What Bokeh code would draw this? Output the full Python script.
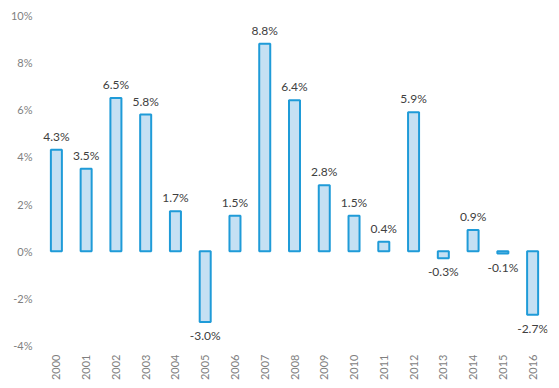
from bokeh.plotting import figure
from bokeh.models import ColumnDataSource, FixedTicker, PrintfTickFormatter, Range1d
from bokeh.core.properties import value
from bokeh.embed import file_html
from bokeh.resources import INLINE
import math

years = ["2000", "2001", "2002", "2003", "2004", "2005", "2006", "2007", "2008",
         "2009", "2010", "2011", "2012", "2013", "2014", "2015", "2016"]
growth = [4.3, 3.5, 6.5, 5.8, 1.7, -3.0, 1.5, 8.8, 6.4, 2.8, 1.5, 0.4, 5.9, -0.3, 0.9, -0.1, -2.7]
y_ticks = [-4, -2, 0, 2, 4, 6, 8, 10]

FONT = "Lato"
src = ColumnDataSource(dict(x=years, top=growth))
pos = ColumnDataSource(dict(x=[y for y, v in zip(years, growth) if v >= 0],
                            y=[v for v in growth if v >= 0],
                            lab=["%.1f%%" % v for v in growth if v >= 0]))
neg = ColumnDataSource(dict(x=[y for y, v in zip(years, growth) if v < 0],
                            y=[v for v in growth if v < 0],
                            lab=["%.1f%%" % v for v in growth if v < 0]))

p = figure(x_range=years, width=557, height=386, output_backend="svg",
           toolbar_location=None, min_border_top=15, min_border_bottom=41,
           min_border_left=41, min_border_right=10)
p.y_range = Range1d(-4, 10)
p.x_range.range_padding = 0

p.vbar(x="x", top="top", bottom=0, width=0.37, source=src,
       fill_color="#c5e0f3", line_color="#1f9bd8", line_width=2)

p.text(x="x", y="y", text="lab", source=pos, text_align="center",
       text_baseline="bottom", y_offset=-6, text_font=value(FONT),
       text_font_size="12px", text_color="#404040")
p.text(x="x", y="y", text="lab", source=neg, text_align="center",
       text_baseline="top", y_offset=6, text_font=value(FONT),
       text_font_size="12px", text_color="#404040")

p.outline_line_color = None
p.grid.grid_line_color = None
for ax in (p.xaxis, p.yaxis):
    ax.axis_line_color = None
    ax.major_tick_line_color = None
    ax.minor_tick_line_color = None
    ax.major_tick_out = 0
    ax.major_tick_in = 0
    ax.major_label_text_font = FONT
    ax.major_label_text_font_size = "11px"
    ax.major_label_text_color = "#7f7f7f"

p.yaxis.ticker = FixedTicker(ticks=y_ticks)
p.yaxis.formatter = PrintfTickFormatter(format="%d%%")
p.yaxis.major_label_standoff = 9
p.xaxis.major_label_orientation = math.pi / 2
p.xaxis.major_label_standoff = 9

open("out.html", "w").write(file_html(p, INLINE))
